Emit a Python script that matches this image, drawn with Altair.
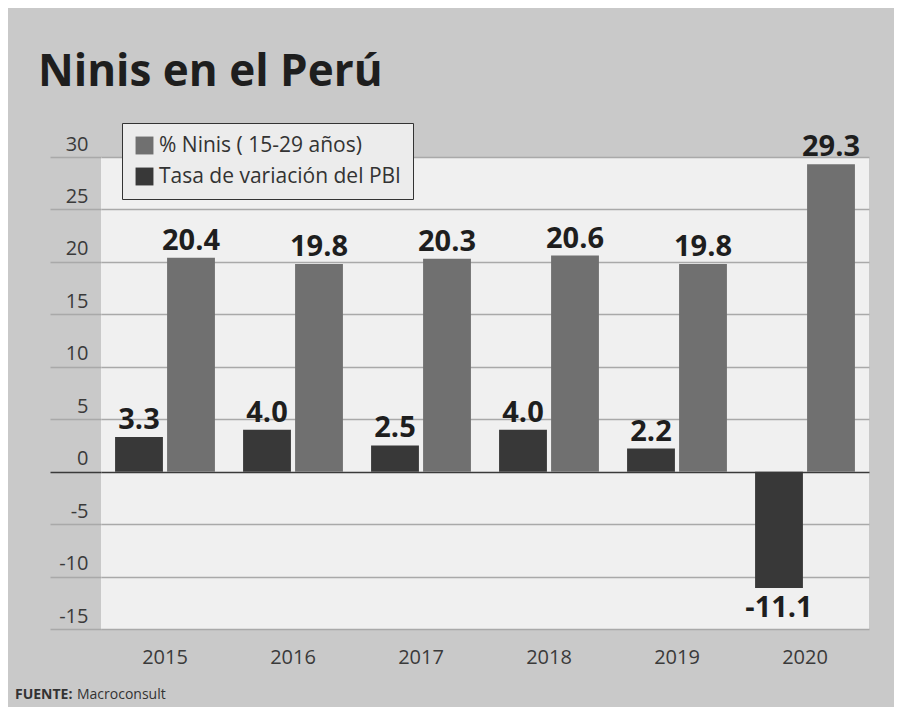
import altair as alt
import pandas as pd

years = ["2015", "2016", "2017", "2018", "2019", "2020"]
ninis = [20.4, 19.8, 20.3, 20.6, 19.8, 29.3]
pbi = [3.3, 4.0, 2.5, 4.0, 2.2, -11.1]
serie_ninis = "% Ninis ( 15-29 años)"
serie_pbi = "Tasa de variación del PBI"
y_ticks = [-15, -10, -5, 0, 5, 10, 15, 20, 25, 30]
title_text = "Ninis en el Perú"
source_bold = "FUENTE:"
source_rest = "Macroconsult"

rows = []
for i, yr in enumerate(years):
    rows.append({"year": yr, "serie": serie_pbi, "valor": pbi[i]})
    rows.append({"year": yr, "serie": serie_ninis, "valor": ninis[i]})
df = pd.DataFrame(rows)

FONT = "Open Sans"
line_cond = {"condition": {"test": "datum.value === 0", "value": "#3a3a3a"}, "value": "#a9a9a9"}

x_enc = alt.X("year:N", sort=years,
              scale=alt.Scale(paddingInner=0.22, paddingOuter=0.11),
              axis=alt.Axis(title=None, labelAngle=0, domain=False, ticks=False,
                            labelFontSize=20, labelPadding=18, labelColor="#3a3a3a",
                            labelFont=FONT))
xo_enc = alt.XOffset("serie:N", sort=[serie_pbi, serie_ninis],
                     scale=alt.Scale(paddingInner=0.08))
y_enc = alt.Y("valor:Q",
              scale=alt.Scale(domain=[-15, 30], nice=False, zero=False),
              axis=alt.Axis(title=None, values=y_ticks, domain=False,
                            tickSize=51, tickColor=line_cond, tickWidth=1.5,
                            gridColor=line_cond, gridWidth=1.5,
                            labelPadding=-38, labelAlign="right",
                            labelBaseline="bottom", labelOffset=-3,
                            labelExpr="replace(datum.label, '\u2212', '-')",
                            labelFontSize=20, labelColor="#3a3a3a", labelFont=FONT))

base = alt.Chart(df).transform_calculate(
    etiqueta="replace(format(datum.valor, '.1f'), '\u2212', '-')"
)

bars = base.mark_bar().encode(
    x=x_enc, xOffset=xo_enc, y=y_enc,
    color=alt.Color("serie:N",
                    scale=alt.Scale(domain=[serie_ninis, serie_pbi],
                                    range=["#707070", "#383838"]),
                    legend=alt.Legend(title=None, orient="none", legendX=21, legendY=-34,
                                      direction="vertical",
                                      symbolType="square", symbolSize=320,
                                      symbolStrokeWidth=0, labelLimit=0,
                                      labelFontSize=21, labelFont=FONT, labelColor="#333333",
                                      rowPadding=9, padding=12,
                                      strokeColor="#333333", fillColor="#ececec"))
)

pos_text = base.transform_filter("datum.valor >= 0").mark_text(
    baseline="bottom", dy=-2, fontSize=29, fontWeight="bold", font=FONT, color="#1e1e1e"
).encode(x=x_enc, xOffset=xo_enc, y=y_enc, text="etiqueta:N")

neg_text = base.transform_filter("datum.valor < 0").mark_text(
    baseline="top", dy=6, fontSize=29, fontWeight="bold", font=FONT, color="#1e1e1e"
).encode(x=x_enc, xOffset=xo_enc, y=y_enc, text="etiqueta:N")

src1 = alt.Chart(pd.DataFrame({"t": [source_bold]})).mark_text(
    align="left", baseline="middle", fontSize=14, fontWeight="bold", font=FONT, color="#333333"
).encode(text="t:N", x=alt.value(-86), y=alt.value(538))
src2 = alt.Chart(pd.DataFrame({"t": [source_rest]})).mark_text(
    align="left", baseline="middle", fontSize=14, font=FONT, color="#333333"
).encode(text="t:N", x=alt.value(-24), y=alt.value(538))

chart = alt.layer(bars, pos_text, neg_text, src1, src2).properties(
    width=768, height=472,
    padding={"left": 7, "top": 42, "right": 25, "bottom": 5},
    background="#c9c9c9",
    title=alt.TitleParams(title_text, anchor="start", frame="group", fontSize=44,
                          font=FONT, fontWeight="bold", color="#1e1e1e", dx=-63, offset=28)
).configure_view(fill="#f0f0f0", stroke=None)

chart.save("out.html", embed_options={"renderer": "svg", "actions": False})
